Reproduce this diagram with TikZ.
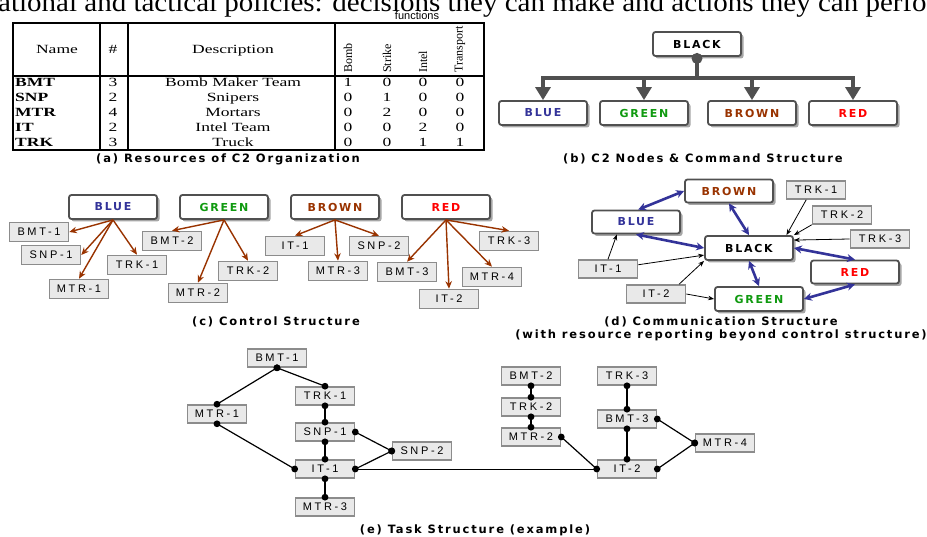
\documentclass[tikz,border=0pt]{standalone}
\usepackage{fontspec}
\usepackage{graphicx}
\setmainfont{Liberation Serif}
\newfontfamily\lab[LetterSpace=24]{Liberation Sans}
\newfontfamily\blab[LetterSpace=16]{DejaVu Sans}
\newfontfamily\plainsans{Liberation Sans}
\usetikzlibrary{arrows.meta,shadows,calc}
\definecolor{boxc}{HTML}{505050}
\definecolor{gboxc}{HTML}{8C8C8C}
\definecolor{gfill}{HTML}{E9E9E9}
\definecolor{cblue}{HTML}{333399}
\definecolor{cgreen}{HTML}{109A10}
\definecolor{cbrown}{HTML}{993300}
\definecolor{cred}{HTML}{FF0000}
\newcommand\tw[1]{\scalebox{1.4}[1]{#1}}
\tikzset{
  cbox/.style={draw=boxc, line width=1.8pt, rounded corners=2.5pt, fill=white,
    minimum width=88pt, minimum height=24pt, inner sep=0pt,
    font=\blab\bfseries\fontsize{11}{13}\selectfont,
    drop shadow={shadow xshift=2.5pt, shadow yshift=-2.5pt, fill=black!35, opacity=1}},
  gbox/.style={draw=gboxc, line width=1.6pt, fill=gfill, minimum width=59pt,
    minimum height=19pt, inner sep=0pt, font=\lab\fontsize{11}{13}\selectfont},
  ebox/.style={gbox, minimum height=18pt},
  capt/.style={font=\blab\bfseries\fontsize{11.5}{13}\selectfont, inner sep=0pt},
  tt/.style={font=\fontsize{12.5}{14}\selectfont, inner sep=0pt},
  rot/.style={font=\fontsize{12}{12}\selectfont, inner sep=0pt, rotate=90, anchor=west},
  cmdarrow/.style={draw=boxc, line width=3.2pt, -{Triangle[length=13pt,width=15pt]}},
  ctrl/.style={draw=cbrown, line width=1.4pt, -{Stealth[length=7.5pt,width=6.5pt]}},
  comm/.style={draw=cblue, line width=2.6pt, {Stealth[length=8pt,width=8pt]}-{Stealth[length=8pt,width=8pt]}},
  rep/.style={draw=black, line width=0.8pt, -{Stealth[length=6pt,width=4.5pt]}},
  tline/.style={draw=black, line width=1.2pt},
  tdot/.style={fill=black},
}
\begin{document}
\begin{tikzpicture}[x=1pt,y=-1pt]
\useasboundingbox (0,0) rectangle (927,537);
\clip (0,0) rectangle (927,537);
\fill[white] (0,0) rectangle (927,537);

% clipped running text at top
\node[anchor=base west, inner sep=0pt, font=\fontsize{27}{29}\selectfont] (toptext) at (-2,12)
  {\scalebox{1.074}[1]{ational and tactical policies: decisions they can make and actions they can perfo}};

% ---------- (a) table ----------
\node[font=\plainsans\fontsize{11}{12}\selectfont, inner sep=0pt] (func) at (417,15.5) {functions};
\draw[line width=2pt] (13,23) rectangle (484,150);
\draw[line width=2pt] (13,76) -- (484,76);
\draw[line width=2.4pt] (100,23) -- (100,150);
\draw[line width=1.5pt] (128,23) -- (128,150);
\draw[line width=2pt] (335,23) -- (335,150);
\node[tt, anchor=base] (hname) at (57,54) {\tw{Name}};
\node[tt, anchor=base] (hnum) at (113,54) {\tw{\#}};
\node[tt, anchor=base] (hdesc) at (233,54) {\tw{Description}};
\node[rot] (hbomb) at (348,73) {Bomb};
\node[rot] (hstrike) at (387,73) {Strike};
\node[rot] (hintel) at (423,73) {Intel};
\node[rot] (htrans) at (460,73) {Transport};
\foreach \nm/\n/\d/\a/\b/\c/\e [count=\i] in
  {BMT/3/Bomb Maker Team/1/0/0/0, SNP/2/Snipers/0/1/0/0, MTR/4/Mortars/0/2/0/0,
   IT/2/Intel Team/0/0/2/0, TRK/3/Truck/0/0/1/1} {
  \pgfmathsetmacro\yy{87+15*(\i-1)}
  \node[tt, anchor=base west] (rname\i) at (15,\yy) {\tw{\textbf{\nm}}};
  \node[tt, anchor=base] (rnum\i) at (113,\yy) {\tw{\n}};
  \node[tt, anchor=base] (rdesc\i) at (233,\yy) {\tw{\d}};
  \node[tt, anchor=base] (ra\i) at (348,\yy) {\tw{\a}};
  \node[tt, anchor=base] (rb\i) at (387,\yy) {\tw{\b}};
  \node[tt, anchor=base] (rc\i) at (423,\yy) {\tw{\c}};
  \node[tt, anchor=base] (re\i) at (460,\yy) {\tw{\e}};
}
\node[capt] (capa) at (228,159) {(a) Resources of C2 Organization};

% ---------- (b) command structure ----------
\node[cbox] (bBLACK) at (697,44) {BLACK};
\node[cbox, text=cblue] (bBLUE) at (543,113) {BLUE};
\node[cbox, text=cgreen] (bGREEN) at (644,113) {GREEN};
\node[cbox, text=cbrown] (bBROWN) at (752,113) {BROWN};
\node[cbox, text=cred] (bRED) at (853,113) {RED};
\coordinate (bbus) at (697,78);
\draw[draw=boxc, line width=3.2pt] (bBLACK.south) -- (bbus);
\foreach \t in {bBLUE,bGREEN,bBROWN,bRED}
  \draw[cmdarrow] (bbus) -| (\t.north);
\fill[boxc] (bBLACK.south) ++(0,1.5) circle (5.5);
\node[capt] (capb) at (703,159) {(b) C2 Nodes \& Command Structure};

% ---------- (c) control structure ----------
\node[cbox, text=cblue] (cBLUE) at (113,207) {BLUE};
\node[cbox, text=cgreen] (cGREEN) at (224,207) {GREEN};
\node[cbox, text=cbrown] (cBROWN) at (335,207) {BROWN};
\node[cbox, text=cred] (cRED) at (446,207) {RED};
\node[gbox] (cBMT1) at (39,232) {BMT-1};
\node[gbox] (cSNP1) at (51,255) {SNP-1};
\node[gbox] (cMTR1) at (79,289) {MTR-1};
\node[gbox] (cTRK1) at (137,265) {TRK-1};
\node[gbox] (cBMT2) at (172,241) {BMT-2};
\node[gbox] (cMTR2) at (198,293) {MTR-2};
\node[gbox] (cTRK2) at (248,271) {TRK-2};
\node[gbox] (cIT1) at (295,246) {IT-1};
\node[gbox] (cMTR3) at (338,271) {MTR-3};
\node[gbox] (cSNP2) at (379,246) {SNP-2};
\node[gbox] (cBMT3) at (407,272) {BMT-3};
\node[gbox] (cIT2) at (449,299) {IT-2};
\node[gbox] (cMTR4) at (492,277) {MTR-4};
\node[gbox] (cTRK3) at (509,241) {TRK-3};
\draw[ctrl] (cBLUE.south) -- (cBMT1.east);
\draw[ctrl] (cBLUE.south) -- (cSNP1.east);
\draw[ctrl] (cBLUE.south) -- (cMTR1.north);
\draw[ctrl] (cBLUE.south) -- (cTRK1.north);
\draw[ctrl] (cGREEN.south) -- (cBMT2.north);
\draw[ctrl] (cGREEN.south) -- (cMTR2.north);
\draw[ctrl] (cGREEN.south) -- (cTRK2.north);
\draw[ctrl] (cBROWN.south) -- (cIT1.north);
\draw[ctrl] (cBROWN.south) -- (cMTR3.north);
\draw[ctrl] (cBROWN.south) -- (cSNP2.north);
\draw[ctrl] (cRED.south) -- (cBMT3.north);
\draw[ctrl] (cRED.south) -- (cIT2.north);
\draw[ctrl] (cRED.south) -- (cMTR4.north);
\draw[ctrl] (cRED.south) -- (cTRK3.north);
\node[capt] (capc) at (276,322) {(c) Control Structure};

% ---------- (d) communication structure ----------
\node[cbox, text=cbrown, minimum height=23pt] (dBROWN) at (729,191) {BROWN};
\node[cbox, text=cblue, minimum height=23pt] (dBLUE) at (636,222) {BLUE};
\node[cbox, minimum height=24pt] (dBLACK) at (749,248) {BLACK};
\node[cbox, text=cred, minimum height=23pt] (dRED) at (855,272) {RED};
\node[cbox, text=cgreen, minimum height=24pt] (dGREEN) at (759,299) {GREEN};
\node[gbox, minimum height=18pt] (dTRK1) at (816,190) {TRK-1};
\node[gbox, minimum height=18pt] (dTRK2) at (842,215) {TRK-2};
\node[gbox, minimum height=18pt] (dTRK3) at (880,239) {TRK-3};
\node[gbox, minimum height=18pt] (dIT1) at (608,269) {IT-1};
\node[gbox, minimum height=18pt] (dIT2) at (656,294) {IT-2};
\draw[comm] (dBLUE.80) -- (dBROWN.west);
\draw[comm] (dBROWN.south) -- (dBLACK.north);
\draw[comm] (dBLUE.south) -- (dBLACK.west);
\draw[comm] (dBLACK.south) -- (dGREEN.north);
\draw[comm] (dBLACK.east) -- (dRED.north);
\draw[comm] (dRED.south) -- (dGREEN.east);
\draw[rep] (dTRK1.225) -- (dBLACK.19);
\draw[rep] (dTRK2.south west) -- (dBLACK.north east);
\draw[rep] (dTRK3.west) -- (dBLACK.10);
\draw[rep] (dIT1.north) -- (dBLUE.213);
\draw[rep] (dIT1.8) -- (dBLACK.189);
\draw[rep] (dIT2.23) -- (dBLACK.south west);
\draw[rep] (dIT2.east) -- (dGREEN.west);
\node[capt, align=center] (capd) at (721,328.5) {(d) Communication Structure\\(with resource reporting beyond control structure)};

% ---------- (e) task structure ----------
\node[ebox] (eBMT1) at (277,358) {BMT-1};
\node[ebox] (eMTR1) at (217,414) {MTR-1};
\node[ebox] (eTRK1) at (325,396) {TRK-1};
\node[ebox] (eSNP1) at (325,432) {SNP-1};
\node[ebox] (eSNP2) at (422,451) {SNP-2};
\node[ebox] (eIT1) at (325,469) {IT-1};
\node[ebox] (eMTR3) at (325,507) {MTR-3};
\node[ebox] (eBMT2) at (531,376) {BMT-2};
\node[ebox] (eTRK2) at (531,407) {TRK-2};
\node[ebox] (eMTR2) at (531,437) {MTR-2};
\node[ebox] (eTRK3) at (627,376) {TRK-3};
\node[ebox] (eBMT3) at (627,419) {BMT-3};
\node[ebox] (eMTR4) at (725,443) {MTR-4};
\node[ebox] (eIT2) at (627,469) {IT-2};
\draw[draw=black, line width=0.8pt] (eIT1.east) -- (eIT2.west);
\foreach \a/\b in {eBMT1.south/eMTR1.north, eBMT1.south/eTRK1.north,
  eMTR1.south/eIT1.west, eTRK1.south/eSNP1.north, eSNP1.east/eSNP2.west,
  eSNP1.south/eIT1.north, eIT1.east/eSNP2.west, eIT1.south/eMTR3.north,
  eBMT2.south/eTRK2.north, eTRK2.south/eMTR2.north,
  eMTR2.east/eIT2.west, eTRK3.south/eBMT3.north, eBMT3.south/eIT2.north,
  eBMT3.east/eMTR4.west, eIT2.east/eMTR4.west} {
  \draw[tline] (\a) -- (\b);
  \fill[tdot] (\a) circle (3.4);
  \fill[tdot] (\b) circle (3.4);
}
\node[capt] (cape) at (475,530) {(e) Task Structure (example)};
\end{tikzpicture}
\end{document}
